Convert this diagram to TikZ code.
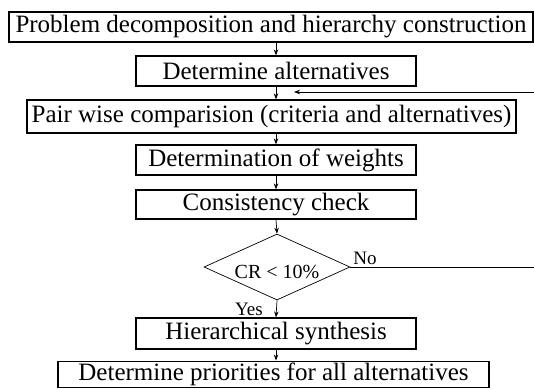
\documentclass[tikz,border=0pt]{standalone}
\usepackage{fontspec}
\setmainfont{Liberation Serif}
\usetikzlibrary{arrows.meta,shapes.geometric}
\begin{document}
\begin{tikzpicture}[x=1pt,y=1pt,
  stepbox/.style={draw,line width=1.3pt,inner sep=0pt,minimum height=30pt,
    font=\fontsize{25}{30}\selectfont},
  arr/.style={draw,line width=0.7pt,-{Stealth[length=6pt,width=4.5pt]}},
  conn/.style={draw,line width=0.7pt},
  lbl/.style={inner sep=0pt,font=\fontsize{19}{22}\selectfont}]
\useasboundingbox (0,0) rectangle (534,-388);
\node[stepbox,minimum width=524pt] (b1) at (271,-27) {Problem decomposition and hierarchy construction};
\node[stepbox,minimum width=280pt] (b2) at (276,-71) {Determine alternatives};
\node[stepbox,minimum width=489pt,minimum height=33pt] (b3) at (271.5,-116.5) {Pair wise comparision (criteria and alternatives)};
\node[stepbox,minimum width=280pt] (b4) at (276,-160) {Determination of weights};
\node[stepbox,minimum width=280pt,minimum height=29pt] (b5) at (276,-204.5) {Consistency check};
\node[draw,diamond,line width=0.7pt,minimum width=146pt,minimum height=66pt,inner sep=0pt] (d) at (277,-267) {};
\node[lbl,font=\fontsize{20}{24}\selectfont] (cr) at (277,-272) {CR < 10\%};
\node[stepbox,minimum width=280pt,minimum height=31pt] (b6) at (276,-333.5) {Hierarchical synthesis};
\node[stepbox,minimum width=431pt,minimum height=26pt] (b7) at (273.5,-374.2) {Determine priorities for all alternatives};
\node[lbl] (no) at (365,-258) {No};
\node[lbl] (yes) at (249,-309) {Yes};
\coordinate (fbstart) at (534,-92);
\coordinate (fbend) at (294,-92);
\coordinate (noend) at (534,-267);
\draw[arr] (b1.south -| b2.center) -- (b2.north);
\draw[arr] (b2.south) -- (b3.north -| b2.center);
\draw[arr] (b3.south -| b4.center) -- (b4.north);
\draw[arr] (b4.south) -- (b5.north);
\draw[arr] (b5.south) -- (d.north);
\draw[arr] (d.south) -- (b6.north);
\draw[arr] (b6.south) -- (b7.north -| b6.center);
\draw[arr] (fbstart) -- (fbend);
\draw[conn] (d.east) -- (noend);
\end{tikzpicture}
\end{document}
